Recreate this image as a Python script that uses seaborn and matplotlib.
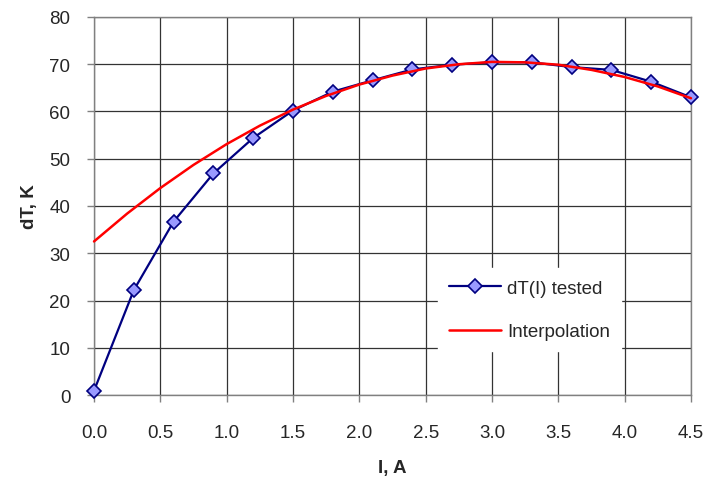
import matplotlib
matplotlib.use("Agg")
import matplotlib.pyplot as plt
import seaborn as sns
import pandas as pd
from matplotlib.ticker import FormatStrFormatter, MultipleLocator

# Measured data
current_tested = [0.0, 0.3, 0.6, 0.9, 1.2, 1.5, 1.8, 2.1, 2.4, 2.7, 3.0, 3.3, 3.6, 3.9, 4.2, 4.5]
dT_tested = [0.9, 22.2, 36.7, 46.9, 54.4, 60.2, 64.2, 66.6, 68.9, 69.9, 70.4, 70.4, 69.4, 68.8, 66.3, 63.0]

# Interpolation curve
current_interp = [0.0, 0.25, 0.5, 0.75, 1.0, 1.25, 1.5, 1.75, 2.0, 2.25, 2.5, 2.75,
                  3.0, 3.25, 3.5, 3.75, 4.0, 4.25, 4.5]
dT_interp = [32.5, 38.4, 43.8, 48.7, 53.1, 57.0, 60.4, 63.3, 65.7, 67.6, 69.1, 70.0,
             70.5, 70.4, 69.9, 68.8, 67.3, 65.3, 62.8]

sns.set_style("white")
plt.rcParams['font.family'] = ['Liberation Sans', 'DejaVu Sans']

df_t = pd.DataFrame({"I": current_tested, "dT": dT_tested})
df_i = pd.DataFrame({"I": current_interp, "dT": dT_interp})

fig = plt.figure(figsize=(7.09, 4.81), dpi=100)
ax = fig.add_axes([0.1326, 0.1767, 0.842, 0.7859])

sns.lineplot(data=df_t, x="I", y="dT", ax=ax, color="#000080", linewidth=1.6,
             marker="D", markersize=7, markerfacecolor="#9999FF",
             markeredgecolor="#000080", markeredgewidth=1.2,
             label="dT(I) tested", zorder=3, clip_on=False)
sns.lineplot(data=df_i, x="I", y="dT", ax=ax, color="#FF0000", linewidth=1.8,
             label="Interpolation", zorder=4, clip_on=False)

ax.set_xlim(0, 4.5)
ax.set_ylim(0, 80)
ax.xaxis.set_major_locator(MultipleLocator(0.5))
ax.yaxis.set_major_locator(MultipleLocator(10))
ax.xaxis.set_major_formatter(FormatStrFormatter('%.1f'))
ax.grid(True, color="#333333", linewidth=0.9)
ax.set_axisbelow(True)
for s in ax.spines.values():
    s.set_color("#808080")
    s.set_linewidth(1.0)
ax.tick_params(axis='both', which='major', labelsize=13.5, length=5, width=1,
               color="#808080", direction='out', bottom=True, left=True)
ax.tick_params(axis='x', pad=16)
ax.tick_params(axis='y', pad=12)
ax.set_xlabel("I, A", fontsize=13.5, fontweight='bold', labelpad=13)
ax.set_ylabel("dT, K", fontsize=13.5, fontweight='bold', labelpad=8)

leg = ax.legend(loc='center left', bbox_to_anchor=(0.56, 0.225), frameon=True,
                fancybox=False, framealpha=1, edgecolor='white', facecolor='white',
                fontsize=13.5, handlelength=2.8, labelspacing=1.4, borderpad=0.6,
                handletextpad=0.3)

fig.savefig("out.png", dpi=100)
